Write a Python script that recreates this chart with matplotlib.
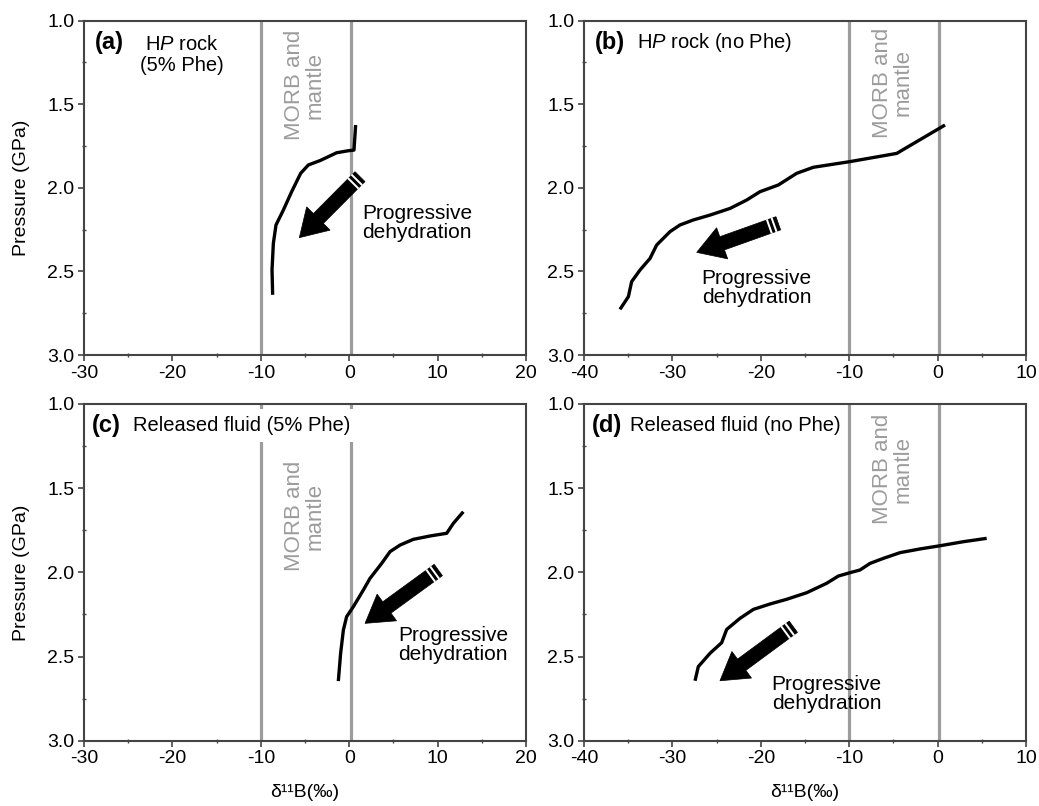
import matplotlib
matplotlib.use('Agg')
import matplotlib.pyplot as plt
from matplotlib.patches import Polygon
from matplotlib.transforms import IdentityTransform
from matplotlib.ticker import MultipleLocator
import numpy as np

plt.rcParams['font.family'] = ['Liberation Sans', 'DejaVu Sans']
plt.rcParams['mathtext.fontset'] = 'custom'
plt.rcParams['mathtext.rm'] = 'Liberation Sans'
plt.rcParams['mathtext.it'] = 'Liberation Sans:italic'
plt.rcParams['axes.unicode_minus'] = False

# ---------------- data ----------------
a_d11B = [0.73, 0.54, -0.10, -1.42, -3.30, -4.62, -5.49, -6.51, -7.45, -8.28, -8.58, -8.73, -8.66]
a_P = [1.624, 1.774, 1.778, 1.790, 1.837, 1.863, 1.913, 2.023, 2.133, 2.222, 2.332, 2.490, 2.640]

b_d11B = [0.84, -4.63, -9.91, -14.06, -15.94, -18.02, -20.09, -21.60, -23.48, -25.75,
          -27.63, -29.14, -30.27, -31.78, -32.53, -33.67, -34.61, -34.98, -35.93]
b_P = [1.624, 1.794, 1.843, 1.877, 1.913, 1.983, 2.023, 2.073, 2.123, 2.163,
       2.192, 2.222, 2.262, 2.342, 2.422, 2.492, 2.561, 2.651, 2.727]

c_d11B = [12.91, 11.78, 11.03, 9.14, 7.25, 5.75, 4.62, 3.67, 2.35, 1.60, 0.47, -0.29, -0.66, -0.97, -1.23]
c_P = [1.640, 1.709, 1.768, 1.784, 1.804, 1.838, 1.877, 1.947, 2.036, 2.105, 2.204, 2.263, 2.343, 2.481, 2.646]

d_d11B = [5.55, 2.91, 0.27, -1.99, -4.25, -6.14, -7.65, -8.78, -9.91, -11.23, -12.55, -14.81,
          -17.07, -18.96, -20.84, -22.35, -23.86, -24.43, -25.75, -27.07, -27.44]
d_P = [1.798, 1.818, 1.842, 1.861, 1.883, 1.917, 1.947, 1.986, 2.002, 2.022, 2.065, 2.121,
       2.160, 2.188, 2.220, 2.273, 2.339, 2.418, 2.481, 2.560, 2.644]

morb_range = [-10.0, 0.2]

panel_letters = ['(a)', '(b)', '(c)', '(d)']
panel_titles = ['H$\\mathit{P}$ rock\n(5% Phe)', 'H$\\mathit{P}$ rock (no Phe)',
                'Released fluid (5% Phe)', 'Released fluid (no Phe)']
xlims = [(-30, 20), (-40, 10), (-30, 20), (-40, 10)]
ylim = (3.0, 1.0)

# arrows (tail, head) in data coords
arrows = [((1.22, 1.933), (-5.64, 2.298)),
          ((-18.02, 2.212), (-27.25, 2.386)),
          ((10.08, 1.986), (1.79, 2.303)),
          ((-16.32, 2.323), (-24.62, 2.644))]
# label positions (left x, centre y)
prog_pos = [(1.45, 2.21), (-26.69, 2.60), (5.52, 2.43), (-18.77, 2.72)]
morb_pos = [(-5.05, 1.385), (-5.05, 1.37), (-5.05, 1.666), (-5.05, 1.387)]

# ---------------- figure ----------------
W, H = 1039, 806
fig = plt.figure(figsize=(W / 100, H / 100), dpi=100)

boxes = [(84, 20.7, 526, 355), (584, 20.7, 1026, 355),
         (84, 404, 526, 740.7), (584, 404, 1026, 740.7)]

curves = [(a_d11B, a_P), (b_d11B, b_P), (c_d11B, c_P), (d_d11B, d_P)]
title_x = [0.222, 0.12, 0.111, 0.104]
letter_x = [0.025, 0.025, 0.018, 0.018]

spine_col = '#444444'
gray = '#9c9c9c'


def draw_arrow(ax, tail, head, bw=7.0, hw=16.5, hl=27.0):
    t = ax.transData.transform(tail)
    h = ax.transData.transform(head)
    d = h - t
    L = np.hypot(d[0], d[1])
    u = d / L
    n = np.array([-u[1], u[0]])
    neck = h - u * hl
    pts = [t + n * bw, neck + n * bw, neck + n * hw, h, neck - n * hw, neck - n * bw, t - n * bw]
    ax.add_patch(Polygon(pts, closed=True, facecolor='black', edgecolor='black', lw=0.5,
                         transform=IdentityTransform(), zorder=5, clip_on=False))
    for s in (4.5, 9.5):
        c0 = t + u * s
        sw = 1.0
        rect = [c0 + n * (bw + 0.5) - u * sw, c0 + n * (bw + 0.5) + u * sw,
                c0 - n * (bw + 0.5) + u * sw, c0 - n * (bw + 0.5) - u * sw]
        ax.add_patch(Polygon(rect, closed=True, facecolor='white', edgecolor='none',
                             transform=IdentityTransform(), zorder=6, clip_on=False))


for i in range(4):
    l, t, r, b = boxes[i]
    ax = fig.add_axes([l / W, 1 - b / H, (r - l) / W, (b - t) / H])
    ax.set_xlim(*xlims[i])
    ax.set_ylim(*ylim)
    for sp in ax.spines.values():
        sp.set_color(spine_col)
        sp.set_linewidth(1.5)
    ax.xaxis.set_major_locator(MultipleLocator(10))
    ax.xaxis.set_minor_locator(MultipleLocator(5))
    ax.yaxis.set_minor_locator(MultipleLocator(0.25))
    ax.tick_params(which='major', direction='out', length=4, width=1.2, color=spine_col, pad=3)
    ax.tick_params(which='minor', direction='inout', length=3, width=1.0, color=spine_col)
    ax.tick_params(axis='both', labelsize=14)
    ax.set_yticks([1.0, 1.5, 2.0, 2.5, 3.0])
    ax.set_yticklabels(['1.0', '1.5', '2.0', '2.5', '3.0'])

    for xv in morb_range:
        ax.axvline(xv, color=gray, lw=2.3, zorder=1)

    xs, ps = curves[i]
    ax.plot(xs, ps, color='black', lw=2.4, solid_joinstyle='round', solid_capstyle='butt', zorder=3)

    mx, my = morb_pos[i]
    ax.text(mx, my, 'MORB and\nmantle', rotation=90, color=gray, fontsize=16,
            ha='center', va='center', multialignment='center', linespacing=0.95, zorder=2)

    px, py = prog_pos[i]
    ax.text(px, py, 'Progressive\ndehydration', fontsize=15, ha='left', va='center',
            linespacing=1.0, zorder=4)

    ty = 0.936
    ax.text(letter_x[i], ty, panel_letters[i], transform=ax.transAxes, fontsize=17,
            fontweight='bold', ha='left', va='center', zorder=7,
            bbox=dict(facecolor='white', edgecolor='none', pad=3))
    if i == 0:
        ax.text(title_x[i], 0.898, panel_titles[i], transform=ax.transAxes, fontsize=14.5,
                ha='center', va='center', multialignment='center', linespacing=1.1, zorder=7)
    else:
        ax.text(title_x[i], ty, panel_titles[i], transform=ax.transAxes, fontsize=14.5,
                ha='left', va='center', zorder=7,
                bbox=dict(facecolor='white', edgecolor='none', pad=5))

    if i in (0, 2):
        ax.set_ylabel('Pressure (GPa)', fontsize=14, labelpad=12)
    if i in (2, 3):
        ax.set_xlabel('δ¹¹B(‰)', fontsize=14, labelpad=12)

    draw_arrow(ax, arrows[i][0], arrows[i][1])

fig.savefig('out.png', dpi=100)
